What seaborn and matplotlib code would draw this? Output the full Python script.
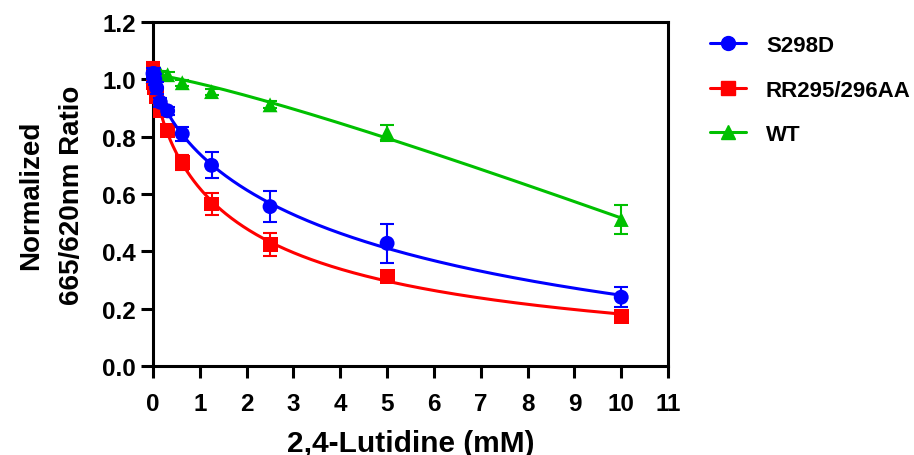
import numpy as np
import pandas as pd
import matplotlib
matplotlib.use("Agg")
import matplotlib.pyplot as plt
import seaborn as sns
from matplotlib.lines import Line2D

# concentrations of 2,4-lutidine (mM), two-fold dilution series
conc = [0, 0.0098, 0.0195, 0.039, 0.078, 0.156, 0.3125, 0.625, 1.25, 2.5, 5, 10]

s298d_mean = [1.02, 1.01, 1.02, 1.00, 0.97, 0.92, 0.89, 0.81, 0.70, 0.556, 0.428, 0.24]
s298d_sd = [0.02, 0.02, 0.02, 0.02, 0.02, 0.015, 0.015, 0.025, 0.045, 0.055, 0.068, 0.035]

rr_mean = [1.03, 1.00, 0.99, 0.97, 0.94, 0.89, 0.82, 0.71, 0.565, 0.424, 0.313, 0.174]
rr_sd = [0.03, 0.03, 0.03, 0.02, 0.02, 0.015, 0.015, 0.025, 0.04, 0.04, 0.01, 0.01]

wt_mean = [1.01, 1.02, 1.02, 1.02, 1.02, 1.02, 1.016, 0.988, 0.957, 0.911, 0.814, 0.511]
wt_sd = [0.01, 0.01, 0.01, 0.01, 0.01, 0.01, 0.01, 0.01, 0.01, 0.012, 0.028, 0.05]

labels = ["S298D", "RR295/296AA", "WT"]
colors = {"S298D": "#0000FF", "RR295/296AA": "#FF0000", "WT": "#00C000"}
markers = {"S298D": "o", "RR295/296AA": "s", "WT": "^"}


def fit_4pl(x, y):
    # grid over slope and IC50, bottom/top solved by linear least squares
    x = np.asarray(x, float)
    y = np.asarray(y, float)
    best = None
    for h in np.arange(0.5, 3.01, 0.02):
        for c in np.logspace(-1, 2, 400):
            g = 1.0 / (1.0 + (x / c) ** h)
            A = np.column_stack([1 - g, g])
            coef, *_ = np.linalg.lstsq(A, y, rcond=None)
            r = np.sum((A @ coef - y) ** 2)
            if best is None or r < best[0]:
                best = (r, coef[0], coef[1], c, h)
    return best[1:]


xs = np.linspace(0, 10, 400)
data = {"S298D": (s298d_mean, s298d_sd), "RR295/296AA": (rr_mean, rr_sd), "WT": (wt_mean, wt_sd)}

fit_rows = []
for name in labels:
    b, t, c, h = fit_4pl(conc, data[name][0])
    fit_rows.append(pd.DataFrame({"x": xs, "y": b + (t - b) / (1 + (xs / c) ** h), "group": name}))
fits = pd.concat(fit_rows)

pts = pd.concat([pd.DataFrame({"x": conc, "y": data[n][0], "sd": data[n][1], "group": n}) for n in labels])

sns.set_style("white")
plt.rcParams["font.family"] = ["Liberation Sans", "DejaVu Sans"]
plt.rcParams["font.weight"] = "bold"
plt.rcParams["text.color"] = "black"
plt.rcParams["axes.labelcolor"] = "black"

fig = plt.figure(figsize=(9.14, 4.56), dpi=100)
ax = fig.add_axes([0.1674, 0.1952, 0.7309 - 0.1674, 0.9496 - 0.1952])

zorders = {"WT": 2, "RR295/296AA": 3, "S298D": 4}
for name in ["WT", "RR295/296AA", "S298D"]:
    sub = fits[fits.group == name]
    sns.lineplot(data=sub, x="x", y="y", color=colors[name], lw=2.2, ax=ax, zorder=zorders[name], legend=False)
    p = pts[pts.group == name]
    ax.errorbar(p.x, p.y, yerr=p.sd, fmt="none", ecolor=colors[name], elinewidth=1.5,
                capsize=5, capthick=1.5, zorder=zorders[name], clip_on=False)
    sns.scatterplot(data=p, x="x", y="y", marker=markers[name], color=colors[name], s=115,
                    edgecolor="none", ax=ax, zorder=zorders[name] + 0.5, legend=False, clip_on=False)

ax.set_xlim(0, 11)
ax.set_ylim(0, 1.2)
ax.set_xticks(range(0, 12))
ax.set_yticks(np.arange(0, 1.21, 0.2))
ax.set_yticklabels([f"{v:.1f}" for v in np.arange(0, 1.21, 0.2)])
for sp in ax.spines.values():
    sp.set_visible(True)
    sp.set_linewidth(2.2)
    sp.set_color("black")
ax.tick_params(axis="both", direction="out", length=8.5, width=2.2, labelsize=17.5, pad=4,
               bottom=True, left=True, colors="black")
ax.tick_params(axis="x", pad=10)
for lab in ax.get_xticklabels() + ax.get_yticklabels():
    lab.set_fontweight("bold")

ax.set_xlabel("2,4-Lutidine (mM)", fontsize=21.5, fontweight="bold", labelpad=10)
ax.set_ylabel("Normalized\n665/620nm Ratio", fontsize=20, fontweight="bold", labelpad=12,
              linespacing=1.75)

handles = [Line2D([0], [0], color=colors[n], lw=2.2, marker=markers[n], markersize=10) for n in labels]
fig.legend(handles, labels, loc="upper left", bbox_to_anchor=(0.765, 0.945), frameon=False,
           borderpad=0, labelspacing=1.05, handlelength=1.6, handletextpad=0.9,
           prop={"weight": "bold", "size": 16})

fig.savefig("out.png", dpi=100)
